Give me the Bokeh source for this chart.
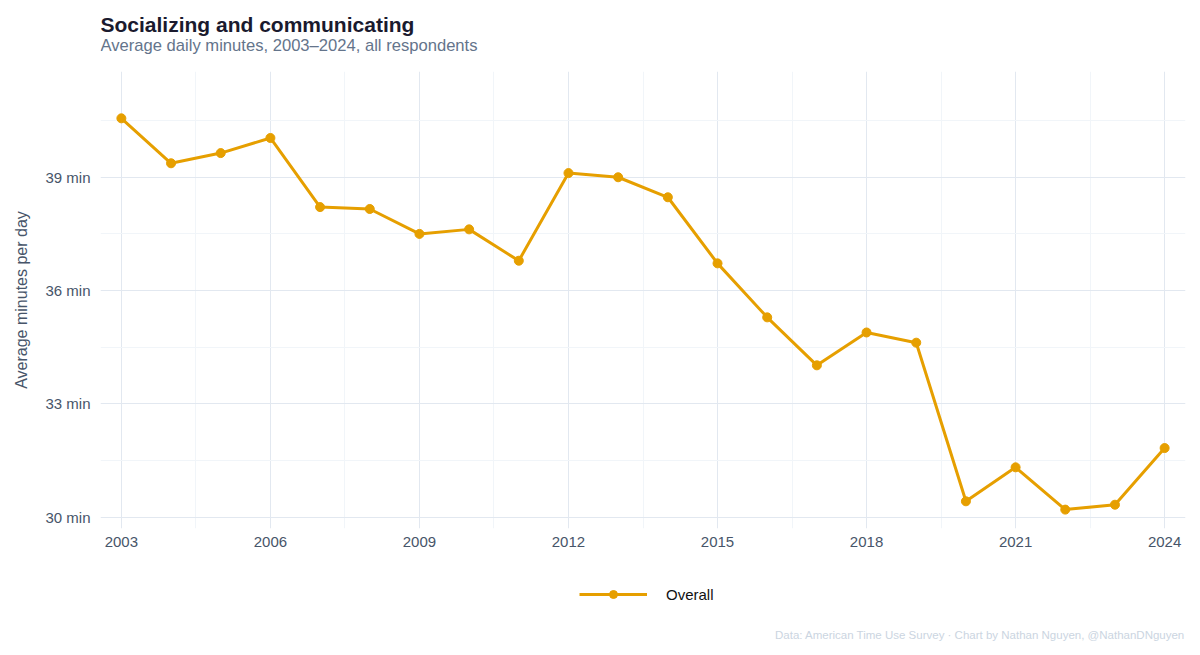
from bokeh.plotting import figure
from bokeh.layouts import column
from bokeh.models import (Range1d, FixedTicker, Legend, LegendItem, Label)
from bokeh.embed import file_html
from bokeh.resources import INLINE

# ---- data ----
years = list(range(2003, 2025))
minutes = [40.56, 39.37, 39.64, 40.04, 38.21, 38.16, 37.50, 37.62, 36.79,
           39.11, 39.00, 38.47, 36.72, 35.29, 34.02, 34.89, 34.62,
           30.42, 31.32, 30.20, 30.33, 31.83]
series_name = "Overall"
x_ticks = [2003, 2006, 2009, 2012, 2015, 2018, 2021, 2024]
x_minor = [2004.5, 2007.5, 2010.5, 2013.5, 2016.5, 2019.5, 2022.5]
y_ticks = [30, 33, 36, 39]
y_tick_labels = ["30 min", "33 min", "36 min", "39 min"]
y_minor = [31.5, 34.5, 37.5, 40.5]
title_text = "Socializing and communicating"
subtitle_text = "Average daily minutes, 2003\u20132024, all respondents"
y_label = "Average minutes per day"
footer_text = "Data: American Time Use Survey  \u00b7  Chart by Nathan Nguyen, @NathanDNguyen"

FONT = "Liberation Sans"
LINE = "#E69F00"
W = 1200


def blank(height):
    f = figure(width=W, height=height, output_backend="svg", toolbar_location=None,
               x_range=Range1d(0, 1), y_range=Range1d(0, 1),
               x_axis_location=None, y_axis_location=None,
               min_border_left=0, min_border_right=0, min_border_top=0,
               min_border_bottom=0, title_location=None)
    f.outline_line_color = None
    f.grid.visible = False
    return f


# ---- header (frames are aligned with the main plot's frame) ----
top = blank(64)
top.add_layout(Label(x=0, y=40, x_units="screen", y_units="screen",
                     text=title_text, text_font=FONT, text_font_size="21px",
                     text_font_style="bold", text_color="#1a1a2e",
                     text_baseline="alphabetic", text_align="left"))
top.add_layout(Label(x=0, y=19, x_units="screen", y_units="screen",
                     text=subtitle_text, text_font=FONT, text_font_size="16.6px",
                     text_color="#64748b", text_baseline="alphabetic",
                     text_align="left"))

# ---- main plot ----
p = figure(width=W, height=496, output_backend="svg", toolbar_location=None,
           x_range=Range1d(2002.58, 2024.42), y_range=Range1d(29.70, 41.80),
           title_location=None,
           min_border_left=100, min_border_right=15, min_border_top=7,
           min_border_bottom=32)
p.outline_line_color = None

for ax in (p.xaxis[0], p.yaxis[0]):
    ax.axis_line_color = None
    ax.major_tick_line_color = None
    ax.minor_tick_line_color = None
    ax.major_tick_out = 0
    ax.minor_tick_out = 0
    ax.major_label_text_font = FONT
    ax.major_label_text_font_size = "15px"
    ax.major_label_text_color = "#475569"

p.xaxis[0].ticker = FixedTicker(ticks=x_ticks, minor_ticks=x_minor)
p.yaxis[0].ticker = FixedTicker(ticks=y_ticks, minor_ticks=y_minor)
p.yaxis[0].major_label_overrides = {t: l for t, l in zip(y_ticks, y_tick_labels)}
p.xaxis[0].major_label_standoff = 8
p.yaxis[0].major_label_standoff = 10
p.yaxis[0].axis_label = y_label
p.yaxis[0].axis_label_text_font = FONT
p.yaxis[0].axis_label_text_font_size = "16px"
p.yaxis[0].axis_label_text_font_style = "normal"
p.yaxis[0].axis_label_text_color = "#475569"
p.yaxis[0].axis_label_standoff = 12

p.xgrid[0].grid_line_color = "#e2e8f0"
p.ygrid[0].grid_line_color = "#e2e8f0"
p.xgrid[0].minor_grid_line_color = "#f1f5f9"
p.ygrid[0].minor_grid_line_color = "#f1f5f9"

p.line(years, minutes, line_color=LINE, line_width=3)
p.scatter(years, minutes, size=9, fill_color=LINE, line_color=LINE)

# ---- legend + footer ----
bot = blank(95)
# legend key renderers: one point of the series, outside this strip's range
lg_line = bot.line(x=years[:1], y=minutes[:1], line_color=LINE, line_width=3)
lg_pt = bot.scatter(x=years[:1], y=minutes[:1], size=8, fill_color=LINE,
                    line_color=LINE)
legend = Legend(items=[LegendItem(label=series_name, renderers=[lg_line, lg_pt])],
                location=(479, 51), orientation="horizontal",
                label_text_font=FONT, label_text_font_size="15px",
                label_text_color="#111111", glyph_width=68, glyph_height=20,
                label_standoff=19, border_line_color=None, padding=5,
                margin=0, background_fill_alpha=0)
bot.add_layout(legend, "center")
bot.add_layout(Label(x=1091, y=21, x_units="screen", y_units="screen",
                     text=footer_text, text_font=FONT, text_font_size="11.5px",
                     text_color="#cbd5e1", text_align="right",
                     text_baseline="middle"))

layout = column(top, p, bot, spacing=0)
open("out.html", "w").write(file_html(layout, INLINE))
